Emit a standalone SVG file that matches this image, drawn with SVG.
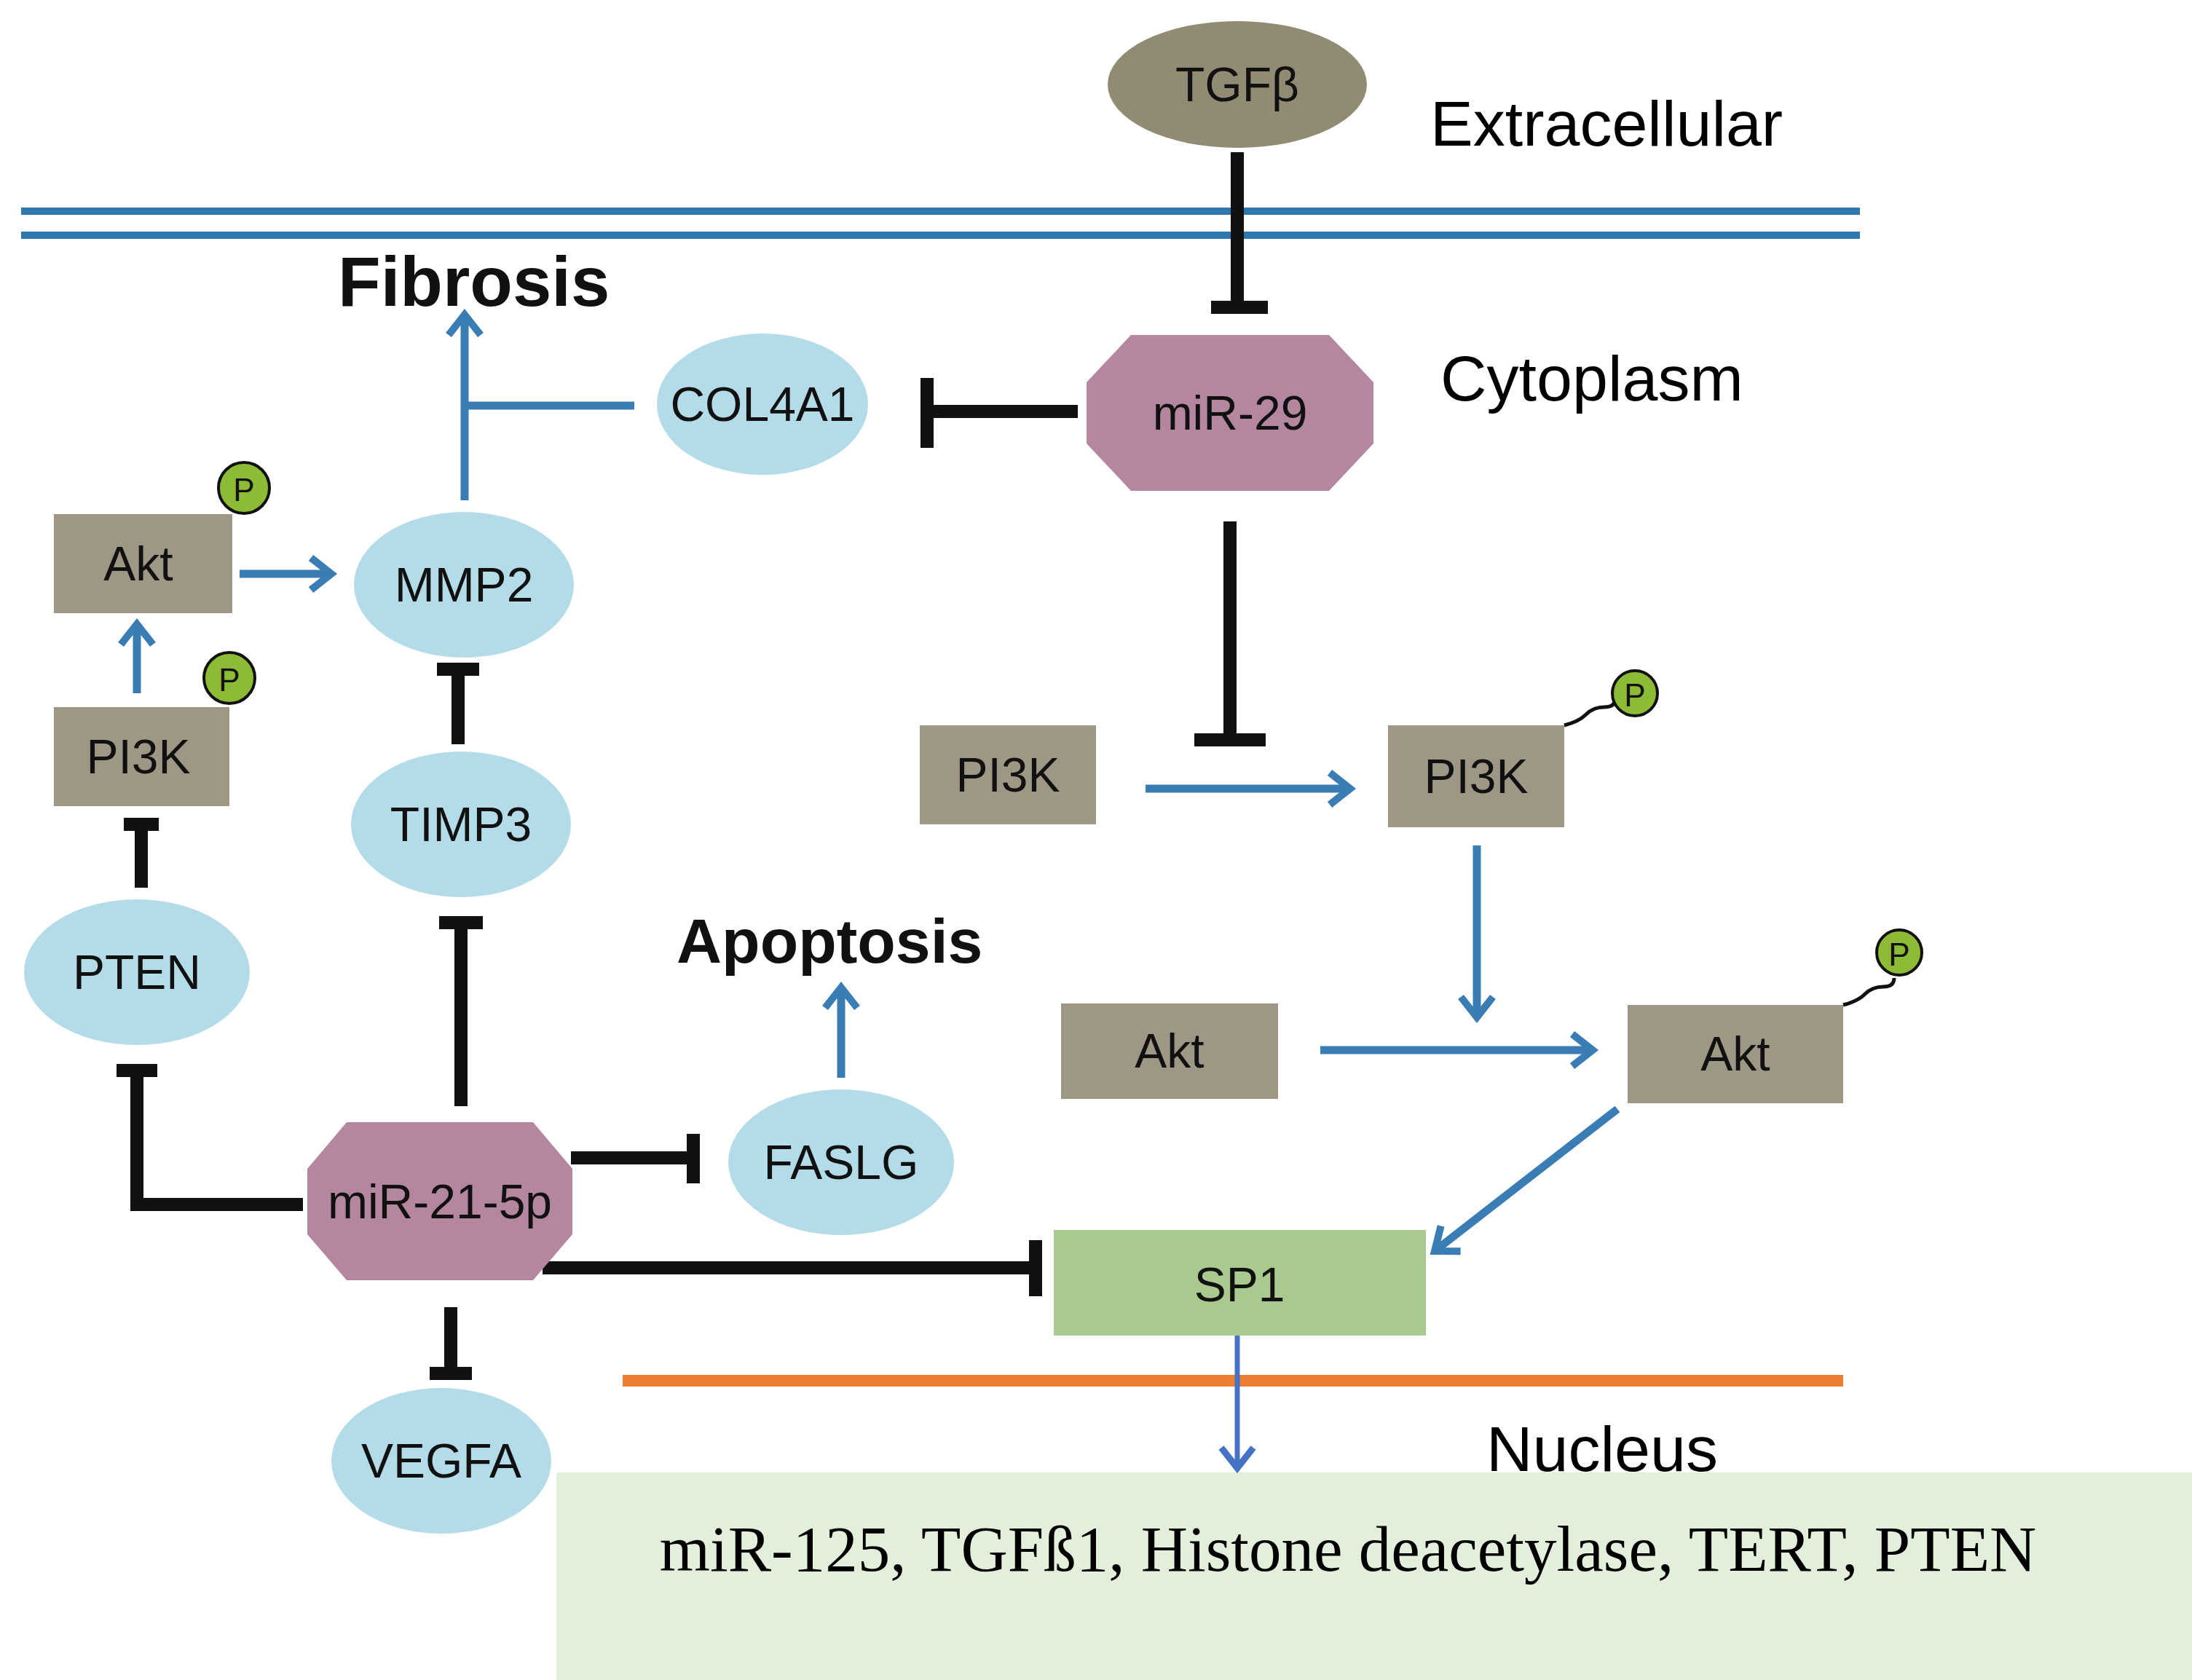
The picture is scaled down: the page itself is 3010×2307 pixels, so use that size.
<svg xmlns="http://www.w3.org/2000/svg" width="3010" height="2307" viewBox="0 0 3010 2307">
<style>
.lb{font-family:"Liberation Sans",Arial,sans-serif;font-size:66px;fill:#111;text-anchor:middle;dominant-baseline:central}
.big{font-family:"Liberation Sans",Arial,sans-serif;font-size:88px;fill:#000}
.bold{font-family:"Liberation Sans",Arial,sans-serif;font-weight:bold;fill:#111}
.ell{fill:#b3dbe8}
.box{fill:#9e9785}
.oct{fill:#b5869f}
.inh{stroke:#111;stroke-width:18;fill:none}
.act{stroke:#3a7db5;stroke-width:11;fill:none;marker-end:url(#ah)}
.p{fill:#8dbb35;stroke:#111;stroke-width:4}
.pt{font-family:"Liberation Sans",Arial,sans-serif;font-size:44px;fill:#111;text-anchor:middle;dominant-baseline:central}
</style>
<defs>
<marker id="ah" markerUnits="userSpaceOnUse" markerWidth="60" markerHeight="60" refX="40" refY="30" orient="auto">
<polyline points="12,8 40,30 12,52" fill="none" stroke="#3a7db5" stroke-width="10"/>
</marker>
<marker id="ah2" markerUnits="userSpaceOnUse" markerWidth="60" markerHeight="60" refX="40" refY="30" orient="auto">
<polyline points="12,8 40,30 12,52" fill="none" stroke="#4472c4" stroke-width="9"/>
</marker>
</defs>
<rect width="3010" height="2307" fill="#fff"/>
<line x1="29" y1="290" x2="2554" y2="290" stroke="#2e7ab0" stroke-width="10"/>
<line x1="29" y1="323" x2="2554" y2="323" stroke="#2e7ab0" stroke-width="10"/>
<line x1="855" y1="1896" x2="2531" y2="1896" stroke="#ed7d31" stroke-width="16"/>
<rect x="764" y="2022" width="2246" height="285" fill="#e2efda"/>
<text x="1851" y="2157" style="font-family:'Liberation Serif',serif;font-size:89px;text-anchor:middle">miR-125, TGFß1, Histone deacetylase, TERT, PTEN</text>
<text class="big" x="1964" y="200">Extracellular</text>
<text class="big" x="1978" y="550">Cytoplasm</text>
<text class="big" x="2041" y="2020">Nucleus</text>
<text class="bold" x="464" y="420" font-size="96">Fibrosis</text>
<text class="bold" x="929" y="1322" font-size="86">Apoptosis</text>
<g id="connectors">
<path class="inh" d="M1699 209V422M1663 422H1741"/>
<path class="inh" d="M1480 565H1273M1273 519V615"/>
<path class="inh" d="M1689 716V1016M1640 1016H1738"/>
<line x1="871" y1="557" x2="638" y2="557" stroke="#3a7db5" stroke-width="11"/>
<path class="act" d="M638 687V432"/>
<path class="act" d="M329 788H455"/>
<path class="act" d="M188 952V857"/>
<path class="inh" d="M194 1219V1132M170 1132H218"/>
<path class="inh" d="M629 1022V919M600 919H658"/>
<path class="inh" d="M633 1519V1267M603 1267H663"/>
<path class="inh" d="M416 1654H188V1470M160 1470H216"/>
<path class="inh" d="M784 1590H952M952 1557V1625"/>
<path class="inh" d="M745 1741H1422M1422 1703V1780"/>
<path class="inh" d="M619 1795V1886M590 1886H648"/>
<path class="act" d="M1155 1480V1356"/>
<path class="act" d="M1573 1083H1854"/>
<path class="act" d="M2028 1161V1397"/>
<path class="act" d="M1813 1442H2187"/>
<path class="act" d="M2221 1523L1970 1718"/>
<path d="M1699 1834V2016" stroke="#4472c4" stroke-width="7" fill="none" marker-end="url(#ah2)"/>
</g>
<g id="tgfb"><ellipse cx="1699" cy="116" rx="178" ry="87" fill="#918b73"/><text class="lb" x="1699" y="116">TGFβ</text></g>
<g id="mir29"><polygon class="oct" points="1553,460 1825,460 1886,525 1886,609 1825,674 1553,674 1492,609 1492,525"/><text class="lb" x="1689" y="567">miR-29</text></g>
<g id="col4a1"><ellipse class="ell" cx="1047" cy="555" rx="145" ry="97"/><text class="lb" x="1047" y="555">COL4A1</text></g>
<g id="mmp2"><ellipse class="ell" cx="637" cy="803" rx="151" ry="100"/><text class="lb" x="637" y="803">MMP2</text></g>
<g id="akt-left"><rect class="box" x="74" y="706" width="245" height="136"/><text class="lb" x="190" y="774">Akt</text><circle class="p" cx="335" cy="670" r="35"/><text class="pt" x="335" y="672">P</text></g>
<g id="pi3k-left"><rect class="box" x="74" y="971" width="241" height="136"/><text class="lb" x="190" y="1039">PI3K</text><circle class="p" cx="315" cy="931" r="35"/><text class="pt" x="315" y="933">P</text></g>
<g id="pten"><ellipse class="ell" cx="188" cy="1335" rx="155" ry="100"/><text class="lb" x="188" y="1335">PTEN</text></g>
<g id="timp3"><ellipse class="ell" cx="633" cy="1132" rx="151" ry="100"/><text class="lb" x="633" y="1132">TIMP3</text></g>
<g id="mir21"><polygon class="oct" points="476,1541 732,1541 786,1605 786,1695 732,1758 476,1758 422,1695 422,1605"/><text class="lb" x="604" y="1650">miR-21-5p</text></g>
<g id="faslg"><ellipse class="ell" cx="1155" cy="1596" rx="155" ry="100"/><text class="lb" x="1155" y="1596">FASLG</text></g>
<g id="vegfa"><ellipse class="ell" cx="606" cy="2006" rx="151" ry="100"/><text class="lb" x="606" y="2006">VEGFA</text></g>
<g id="sp1"><rect x="1447" y="1689" width="511" height="145" fill="#a9c98f"/><text class="lb" x="1702" y="1764">SP1</text></g>
<g id="pi3k-mid"><rect class="box" x="1263" y="996" width="242" height="136"/><text class="lb" x="1384" y="1064">PI3K</text></g>
<g id="pi3k-right"><rect class="box" x="1906" y="996" width="242" height="140"/><text class="lb" x="2027" y="1066">PI3K</text><path d="M2148 996q20 -5 30 -15t25 -10t15 -12" stroke="#111" stroke-width="5" fill="none"/><circle class="p" cx="2245" cy="952" r="31"/><text class="pt" x="2245" y="954">P</text></g>
<g id="akt-mid"><rect class="box" x="1457" y="1378" width="298" height="131"/><text class="lb" x="1606" y="1443">Akt</text></g>
<g id="akt-right"><rect class="box" x="2235" y="1380" width="296" height="135"/><text class="lb" x="2383" y="1447">Akt</text><path d="M2531 1380q20 -5 30 -15t25 -10t15 -12" stroke="#111" stroke-width="5" fill="none"/><circle class="p" cx="2608" cy="1308" r="31"/><text class="pt" x="2608" y="1310">P</text></g>
</svg>
